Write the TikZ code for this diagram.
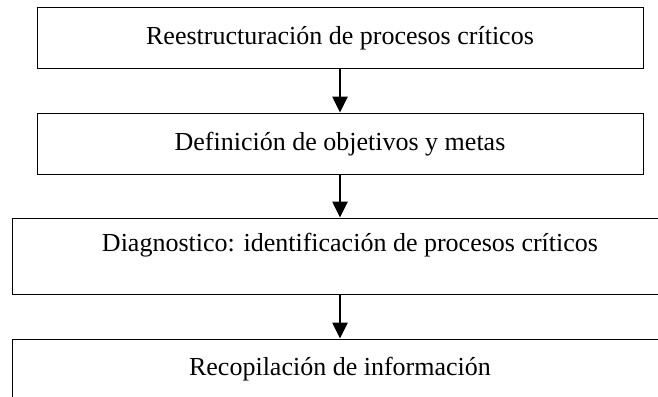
\documentclass[tikz,border=0pt]{standalone}
\usepackage{fontspec}
\setmainfont{Liberation Serif}
\usetikzlibrary{arrows.meta}

\begin{document}
\begin{tikzpicture}[x=1pt,y=-1pt,
    stagebox/.style={draw, line width=1pt, rectangle, inner sep=0pt,
        font=\fontsize{26}{30}\selectfont, text height=18pt, text depth=4pt},
    flowarrow/.style={-{Triangle[width=15pt,length=16pt]}, line width=2.6pt}]

% Page size
\useasboundingbox (0,0) rectangle (658,396);
\clip (0,0) rectangle (658,396);

% Box widths
\def\boxA{606}
\def\boxB{656}

% Stages
\node[stagebox, minimum width=\boxA, minimum height=60] (reestr) at (340,38)
    {Reestructuración de procesos críticos};
\node[stagebox, minimum width=\boxA, minimum height=61] (metas) at (340,143.5)
    {Definición de objetivos y metas};
\node[stagebox, minimum width=\boxB+20, minimum height=76, text depth=28pt] (diag) at (350,256)
    {Diagnostico: identificación de procesos críticos};
\node[stagebox, minimum width=\boxB, minimum height=76, text depth=22pt] (recop) at (340,377)
    {Recopilación de información};

% Arrows
\draw[flowarrow] (reestr.south) -- (metas.north);
\draw[flowarrow] (metas.south) -- (metas.south |- diag.north);
\draw[flowarrow] (metas.south |- diag.south) -- (recop.north);

\end{tikzpicture}
\end{document}
